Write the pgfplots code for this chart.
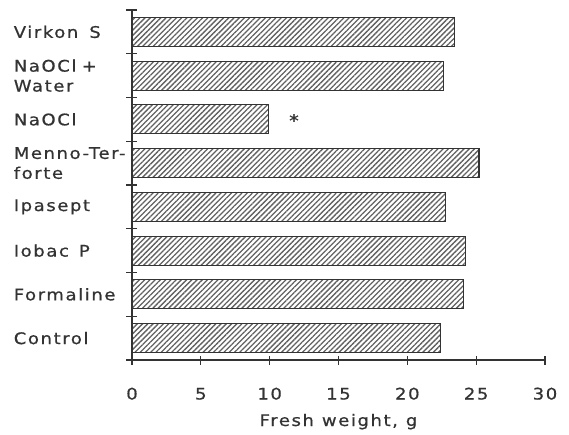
\documentclass[border=0pt]{standalone}
\usepackage{pgfplots}
\pgfplotsset{compat=1.18}
\usepackage{fontspec}
\setmainfont{DejaVu Sans}[FakeStretch=1.13, LetterSpace=10, FakeBold=0.7]
\usetikzlibrary{patterns.meta}
\definecolor{ink}{gray}{0.2}

\begin{document}
\begin{tikzpicture}
% invisible frame giving the reference margins
\path (-132bp,-75bp) rectangle (437bp,360bp);
\begin{axis}[
    at={(0,0)}, anchor=south west,
    scale only axis,
    width=413bp, height=350bp,
    xbar,
    bar width=29bp,
    xmin=0, xmax=30,
    ymin=-0.5, ymax=7.5,
    axis lines*=left,
    axis line style={draw=ink, line width=1.1pt, -},
    xtick={0,5,...,30},
    ytick={0,...,7},
    yticklabels={Control, Formaline, Iobac\hspace{10bp}P, Ipasept, Menno-Ter-\\forte, NaOCl, NaOCl +\\Water, Virkon\hspace{11bp}S},
    every major y tick/.append style={draw=none},
    extra y ticks={-0.5,0.5,...,7.5},
    extra y tick labels={},
    extra y tick style={major tick length=11bp, tick align=center,
        every major y tick/.append style={draw=ink, line width=1.1pt}},
    tick align=center,
    major tick length=9bp,
    tick style={draw=ink, line width=1.1pt},
    /pgf/number format/assume math mode=true,
    ticklabel style={text=ink},
    xticklabel style={font=\fontsize{16}{20}\selectfont, anchor=base, yshift=-35bp, inner sep=0pt},
    yticklabel style={font=\fontsize{16}{20}\selectfont, anchor=east, text width=118bp, align=left, inner sep=0pt, xshift=4.5bp},
    xlabel={Fresh\enspace weight,\enspace g},
    xlabel style={font=\fontsize{16}{20}\selectfont, text=ink, at={(axis description cs:0.5,0)}, anchor=base, yshift=-66bp},
    nodes near coords,
    point meta=explicit symbolic,
    nodes near coords style={anchor=west, xshift=17bp, yshift=-1bp, text=ink, font=\fontsize{17}{17}\selectfont},
    clip=false,
]
\addplot[draw=ink, line width=1.2pt,
    pattern={Lines[angle=45, distance=3.7bp, line width=1.3bp]}, pattern color=black!62]
    coordinates {
    (22.4, 0) []
    (24.1, 1) []
    (24.2, 2) []
    (22.8, 3) []
    (25.2, 4) []
    (9.9,  5) [*]
    (22.6, 6) []
    (23.4, 7) []
};
\end{axis}
\end{tikzpicture}
\end{document}
